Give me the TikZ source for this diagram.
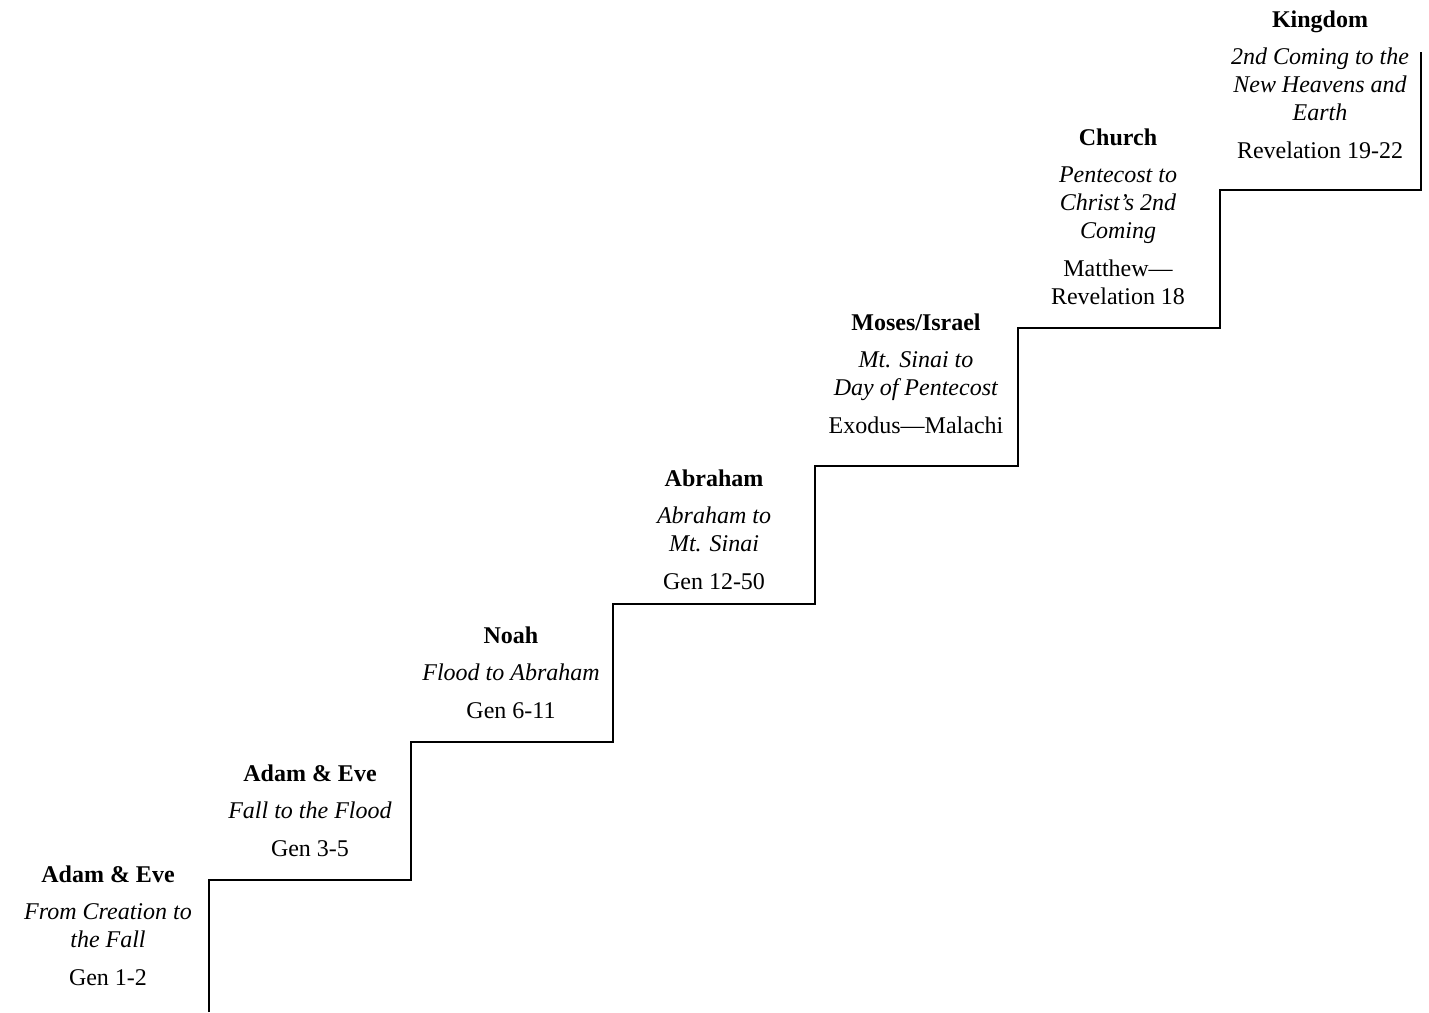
\documentclass[tikz,border=0pt]{standalone}
\usepackage{fontspec}
\setmainfont{Liberation Serif}
\usepackage{tikz}

\tikzset{era/.style={font=\fontsize{24}{28}\selectfont, align=center, anchor=north, inner sep=0pt}}

\begin{document}
\begin{tikzpicture}[x=1pt,y=-1pt]
\useasboundingbox (0,0) rectangle (1429,1012);
\draw[line width=1.6pt] (209,1012) -- (209,880) -- (411,880) -- (411,742) -- (613,742) -- (613,604) -- (815,604) -- (815,466) -- (1018,466) -- (1018,328) -- (1220,328) -- (1220,190) -- (1421,190) -- (1421,52);
\node[era] (adam) at (108,866) {\textbf{Adam \& Eve}\\[9pt]\textit{From Creation to}\\\textit{the Fall}\\[10pt]Gen 1-2};
\node[era] (fall) at (310,765) {\textbf{Adam \& Eve}\\[9pt]\textit{Fall to the Flood}\\[10pt]Gen 3-5};
\node[era] (noah) at (511,627) {\textbf{Noah}\\[9pt]\textit{Flood to Abraham}\\[10pt]Gen 6-11};
\node[era] (abraham) at (714,470) {\textbf{Abraham}\\[9pt]\textit{Abraham to}\\\textit{Mt. Sinai}\\[10pt]Gen 12-50};
\node[era] (moses) at (916,314) {\textbf{Moses/Israel}\\[9pt]\textit{Mt. Sinai to}\\\textit{Day of Pentecost}\\[10pt]Exodus---Malachi};
\node[era] (church) at (1118,129) {\textbf{Church}\\[9pt]\textit{Pentecost to}\\\textit{Christ's 2nd}\\\textit{Coming}\\[10pt]Matthew---\\Revelation 18};
\node[era] (kingdom) at (1320,11) {\textbf{Kingdom}\\[9pt]\textit{2nd Coming to the}\\\textit{New Heavens and}\\\textit{Earth}\\[10pt]Revelation 19-22};
\end{tikzpicture}
\end{document}
